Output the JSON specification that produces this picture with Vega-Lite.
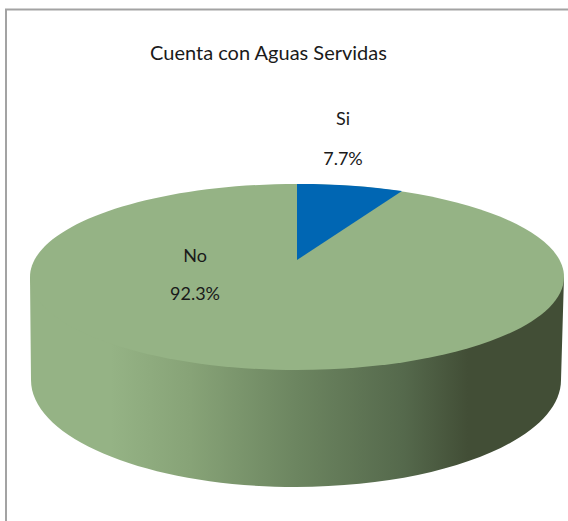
{
  "$schema": "https://vega.github.io/schema/vega-lite/v6.json",
  "width": 568,
  "height": 521,
  "padding": 0,
  "autosize": "none",
  "background": "white",
  "config": {"view": {"stroke": null}},
  "title": {"text": "Cuenta con Aguas Servidas", "anchor": "middle", "orient": "top", "offset": -64, "dx": -15.5, "font": "Lato", "fontSize": 20, "fontWeight": "normal", "color": "#1a1a1a"},
  "data": {"values": [
    {"categoria": "Si", "porcentaje": 0.077},
    {"categoria": "No", "porcentaje": 0.923}
  ]},
  "layer": [
    {
      "transform": [{"filter": "datum.categoria === 'Si'"}],
      "mark": {"type": "point", "shape": "M 286 -251 L -278 -251 L -278 262", "size": 4, "filled": false, "stroke": "#a3a3a3", "strokeWidth": 2, "opacity": 1},
      "encoding": {}
    },
    {
      "transform": [{"filter": "datum.categoria === 'No'"}],
      "mark": {"type": "point", "shape": "M -254 16.5 L -253 119.5 A 265 107 0 0 0 277 119.5 L 280 16.5 Z", "size": 4, "filled": true, "opacity": 1, "strokeWidth": 0,
        "fill": {"x1": 0, "y1": 0, "x2": 1, "y2": 0, "gradient": "linear", "stops": [
          {"offset": 0, "color": "#95b385"},
          {"offset": 0.15, "color": "#95b385"},
          {"offset": 0.3, "color": "#87a377"},
          {"offset": 0.5, "color": "#6c8560"},
          {"offset": 0.7, "color": "#55694c"},
          {"offset": 0.82, "color": "#424e36"},
          {"offset": 1, "color": "#424e36"}
        ]}},
      "encoding": {}
    },
    {
      "transform": [{"filter": "datum.categoria === 'No'"}],
      "mark": {"type": "point", "shape": "M -254 16.5 A 267 93 0 1 1 280 16.5 A 267 93 0 1 1 -254 16.5 Z", "size": 4, "filled": true, "opacity": 1, "strokeWidth": 0},
      "encoding": {"color": {"field": "categoria", "type": "nominal", "legend": null, "scale": {"domain": ["Si", "No"], "range": ["#0066b3", "#95b385"]}}}
    },
    {
      "transform": [{"filter": "datum.categoria === 'Si'"}],
      "mark": {"type": "point", "shape": "M 13 -0.5 L 13 -76.5 A 267 93 0 0 1 118 -69.5 Z", "size": 4, "filled": true, "opacity": 1, "strokeWidth": 0},
      "encoding": {"color": {"field": "categoria", "type": "nominal", "legend": null, "scale": {"domain": ["Si", "No"], "range": ["#0066b3", "#95b385"]}}}
    },
    {
      "transform": [{"filter": "datum.categoria === 'Si'"}],
      "mark": {"type": "text", "font": "Lato", "fontSize": 18, "color": "#1a1a1a", "dx": 59, "dy": -140.5},
      "encoding": {"text": {"field": "categoria", "type": "nominal"}}
    },
    {
      "transform": [{"filter": "datum.categoria === 'Si'"}],
      "mark": {"type": "text", "font": "Lato", "fontSize": 18, "color": "#1a1a1a", "dx": 59, "dy": -100.5},
      "encoding": {"text": {"field": "porcentaje", "type": "quantitative", "format": ".1%"}}
    },
    {
      "transform": [{"filter": "datum.categoria === 'No'"}],
      "mark": {"type": "text", "font": "Lato", "fontSize": 18, "color": "#1a1a1a", "dx": -89, "dy": -3.5},
      "encoding": {"text": {"field": "categoria", "type": "nominal"}}
    },
    {
      "transform": [{"filter": "datum.categoria === 'No'"}],
      "mark": {"type": "text", "font": "Lato", "fontSize": 18, "color": "#1a1a1a", "dx": -89, "dy": 34.5},
      "encoding": {"text": {"field": "porcentaje", "type": "quantitative", "format": ".1%"}}
    }
  ]
}
